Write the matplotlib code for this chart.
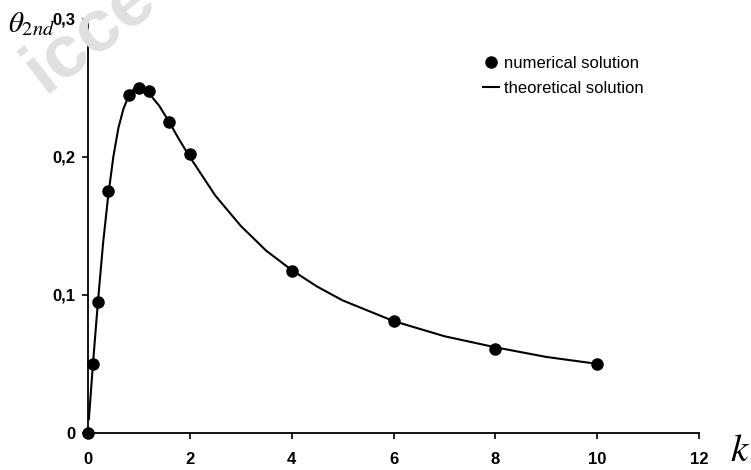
import matplotlib
matplotlib.use("Agg")
import matplotlib.pyplot as plt

# numerical solution points
k_num = [0, 0.1, 0.2, 0.4, 0.8, 1.0, 1.2, 1.6, 2, 4, 6, 8, 10]
theta_num = [0, 0.050, 0.095, 0.175, 0.245, 0.250, 0.248, 0.225, 0.202, 0.117, 0.081, 0.061, 0.050]

# theoretical curve
k_th = [0.02, 0.1, 0.15, 0.2, 0.3, 0.4, 0.5, 0.6, 0.7, 0.8, 0.9, 1.0, 1.2, 1.4,
        1.6, 1.8, 2.0, 2.5, 3.0, 3.5, 4.0, 4.5, 5.0, 6.0, 7.0, 8.0, 9.0, 10.0]
theta_th = [0.010, 0.050, 0.073, 0.096, 0.138, 0.172, 0.200, 0.221, 0.235, 0.244,
            0.249, 0.250, 0.246, 0.237, 0.225, 0.212, 0.200, 0.172, 0.150, 0.132,
            0.118, 0.106, 0.096, 0.081, 0.070, 0.062, 0.055, 0.050]

x_ticks = [0, 2, 4, 6, 8, 10, 12]
y_ticks = [0, 0.1, 0.2, 0.3]
y_labels = ["0", "0,1", "0,2", "0,3"]

plt.rcParams["font.family"] = ["Liberation Sans", "DejaVu Sans"]
plt.rcParams["mathtext.fontset"] = "stix"

fig = plt.figure(figsize=(7.51, 4.70), dpi=100)
ax = fig.add_axes([0.117, 0.079, 0.814, 0.881])

# faint watermark behind everything
fig.text(0.12, 0.93, "icce", fontsize=54, fontweight="bold", color="#e0e0e0",
         rotation=38, ha="center", va="center", zorder=0)
ax.patch.set_alpha(0)

ax.plot(k_th, theta_th, color="black", lw=1.5, label="theoretical solution", zorder=2)
ax.plot(k_num, theta_num, "o", color="black", ms=8, label="numerical solution",
        clip_on=False, zorder=3)

ax.set_xlim(0, 12)
ax.set_ylim(0, 0.3)
ax.set_xticks(x_ticks)
ax.set_xticklabels([str(t) for t in x_ticks])
ax.set_yticks(y_ticks)
ax.set_yticklabels(y_labels)
for lab in ax.get_xticklabels() + ax.get_yticklabels():
    lab.set_fontweight("bold")
    lab.set_fontsize(12)
ax.tick_params(direction="out", length=4, width=1.2)
ax.tick_params(axis="x", pad=10)
ax.tick_params(axis="y", pad=5)

ax.spines["top"].set_visible(False)
ax.spines["right"].set_visible(False)
ax.spines["left"].set_linewidth(1.3)
ax.spines["bottom"].set_linewidth(1.3)

fig.text(0.010, 0.948, r"$\theta_{2nd}$", fontsize=21, ha="left", va="center")
fig.text(0.972, 0.040, r"$k$", fontsize=28, ha="left", va="center")

h, l = ax.get_legend_handles_labels()
ax.legend(h[::-1], l[::-1], loc="upper left", bbox_to_anchor=(0.635, 0.927),
          frameon=False, fontsize=12, handlelength=1.0, handletextpad=0.3,
          labelspacing=0.6, borderaxespad=0)

fig.savefig("out.png", dpi=100)
